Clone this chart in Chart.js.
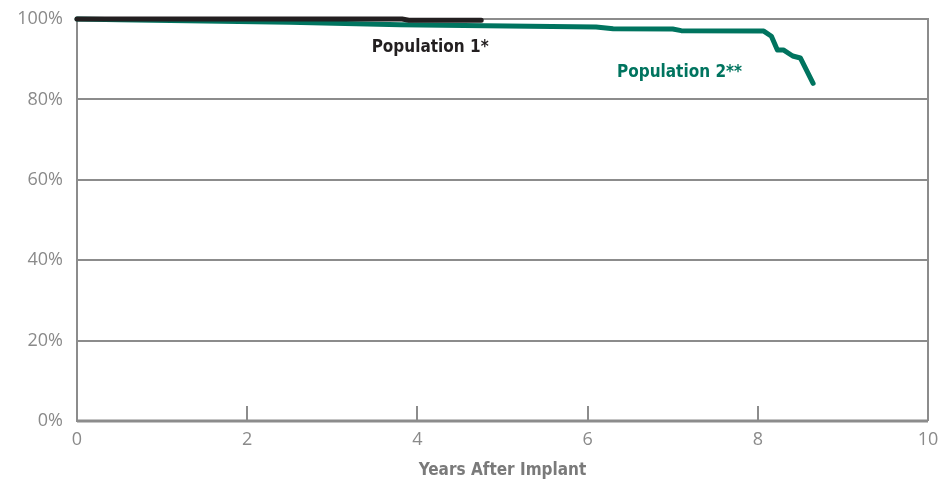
<!DOCTYPE html>
<html>
<head>
<meta charset="utf-8">
<script src="https://cdn.jsdelivr.net/npm/chart.js@4.4.1/dist/chart.umd.min.js"></script>
<style>
  html, body { margin: 0; padding: 0; background: #fff; }
  #wrap { width: 945px; height: 481px; }
</style>
</head>
<body>
<div id="wrap"><canvas id="c"></canvas></div>
<script>
// Survival curves, years after implant vs. % surviving
const pop1Years = [0, 3.82, 3.9, 4.75];
const pop1Pct   = [100, 100, 99.7, 99.7];

const pop2Years = [0, 0.5, 1.5, 2.5, 3.8, 4.8, 6.1, 6.3, 7.0, 7.1, 8.07, 8.16, 8.23, 8.30, 8.41, 8.50, 8.65];
const pop2Pct   = [100, 99.8, 99.5, 99.2, 98.6, 98.3, 98.0, 97.6, 97.5, 97.1, 97.0, 95.7, 92.3, 92.3, 90.8, 90.3, 84.0];

const xTicks = [0, 2, 4, 6, 8, 10];
const yTicks = [0, 20, 40, 60, 80, 100];

const labels = [
  { text: "Population 1*", x: 4.15, y: 93.0, color: "#231f20" },
  { text: "Population 2**", x: 7.08, y: 86.7, color: "#00745f" },
];

const GRID = "#8c8c8c";
const GREEN = "#00745f";
const BLACK = "#231f20";
const condensed = "'Liberation Sans Narrow', 'DejaVu Sans Condensed', sans-serif";

const toPoints = (xs, ys) => xs.map((x, i) => ({ x, y: ys[i] }));

// frame, inward ticks and the two series labels
const decor = {
  id: "decor",
  beforeDatasetsDraw(chart) {
    const { ctx, chartArea: a, scales } = chart;
    ctx.save();
    ctx.strokeStyle = GRID;
    ctx.lineWidth = 2;
    ctx.beginPath();
    ctx.moveTo(a.left, a.top);
    ctx.lineTo(a.right, a.top);
    ctx.lineTo(a.right, a.bottom);
    ctx.stroke();
    ctx.lineWidth = 3;
    ctx.beginPath();
    ctx.moveTo(a.left, a.bottom);
    ctx.lineTo(a.right, a.bottom);
    ctx.stroke();
    ctx.lineWidth = 2;
    for (const t of xTicks.slice(1, -1)) {
      const px = Math.round(scales.x.getPixelForValue(t));
      ctx.beginPath();
      ctx.moveTo(px, a.bottom);
      ctx.lineTo(px, a.bottom - 15);
      ctx.stroke();
    }
    ctx.restore();
  },
  afterDraw(chart) {
    const { ctx, scales } = chart;
    ctx.save();
    ctx.font = "bold 17px " + condensed;
    ctx.textAlign = "center";
    ctx.textBaseline = "middle";
    for (const l of labels) {
      ctx.fillStyle = l.color;
      ctx.fillText(l.text, scales.x.getPixelForValue(l.x), scales.y.getPixelForValue(l.y));
    }
    ctx.restore();
  }
};

new Chart(document.getElementById("c"), {
  type: "line",
  data: {
    datasets: [
      {
        label: "Population 1*",
        data: toPoints(pop1Years, pop1Pct),
        borderColor: BLACK,
        borderWidth: 5,
        borderCapStyle: "round",
        borderJoinStyle: "round",
        pointRadius: 0,
        tension: 0,
        clip: false,
      },
      {
        label: "Population 2**",
        data: toPoints(pop2Years, pop2Pct),
        borderColor: GREEN,
        borderWidth: 5,
        borderCapStyle: "round",
        borderJoinStyle: "round",
        pointRadius: 0,
        tension: 0,
        clip: false,
      },
    ],
  },
  options: {
    responsive: true,
    maintainAspectRatio: false,
    animation: false,
    layout: { padding: { top: 19, right: 17, left: 0, bottom: 0 } },
    plugins: { legend: { display: false }, tooltip: { enabled: false } },
    scales: {
      x: {
        type: "linear",
        min: 0,
        max: 10,
        afterBuildTicks: (s) => { s.ticks = xTicks.map(v => ({ value: v })); },
        afterFit: (s) => { s.height = 60; s.paddingLeft = 0; s.paddingRight = 0; },
        grid: { display: false },
        border: { display: false },
        ticks: { color: "#8a8a8a", font: { family: "'Open Sans', sans-serif", size: 18 }, padding: 0 },
        title: {
          display: true,
          text: "Years After Implant",
          color: "#7a7a7a",
          font: { family: condensed, size: 17, weight: "bold" },
          padding: { top: 2, bottom: 0 },
        },
      },
      y: {
        min: 0,
        max: 100,
        afterBuildTicks: (s) => { s.ticks = yTicks.map(v => ({ value: v })); },
        afterFit: (s) => { s.width = 77; s.paddingTop = 0; s.paddingBottom = 0; },
        grid: { color: GRID, lineWidth: 2, drawTicks: false },
        border: { display: true, color: GRID, width: 2 },
        ticks: {
          color: "#8a8a8a",
          font: { family: "'Open Sans', sans-serif", size: 18 },
          padding: 14,
          callback: (v) => v + "%",
        },
      },
    },
  },
  plugins: [decor],
});
</script>
</body>
</html>
